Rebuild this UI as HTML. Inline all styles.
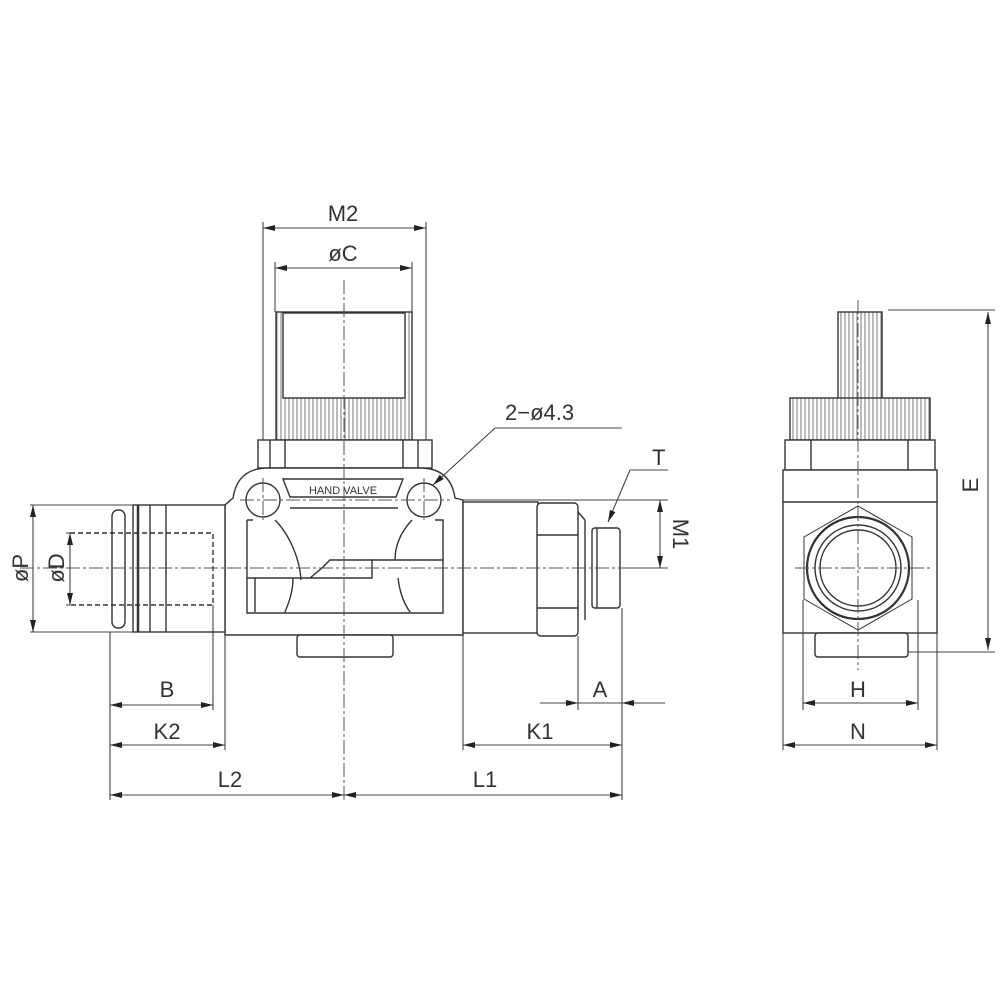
<!DOCTYPE html>
<html><head><meta charset="utf-8"><style>
html,body{margin:0;padding:0;background:#fff}
svg{display:block}
text{font-family:"Liberation Sans",sans-serif;font-size:22px;fill:#333}
</style></head><body>
<svg width="1000" height="1000" viewBox="0 0 1000 1000" xmlns="http://www.w3.org/2000/svg">
<defs>
<marker id="a" viewBox="0 0 12 6" refX="12" refY="3" markerWidth="12" markerHeight="6" orient="auto-start-reverse" markerUnits="userSpaceOnUse"><path d="M0,0 L12,3 L0,6 z" fill="#222"/></marker>
<pattern id="rib" width="4" height="10" patternUnits="userSpaceOnUse"><rect width="4" height="10" fill="#fff"/><line x1="1" y1="0" x2="1" y2="10" stroke="#777" stroke-width="1"/></pattern>
</defs>
<g fill="none" stroke="#333" stroke-width="1.4">
<!-- knob front -->
<rect x="276" y="312" width="136" height="128" fill="url(#rib)"/>
<rect x="283" y="313" width="122" height="85" fill="#fff"/>
<rect x="258" y="440" width="174" height="28" fill="#fff"/>
<line x1="270" y1="440" x2="270" y2="468"/><line x1="285" y1="440" x2="285" y2="468"/>
<line x1="403" y1="440" x2="403" y2="468"/><line x1="418" y1="440" x2="418" y2="468"/>
<!-- body -->
<path d="M225,505 L225,635 L463,635 L463,500 L455,498 C452,478 440,468 420,468 L268,468 C248,468 236,478 233,498 Z" fill="#fff"/>
<circle cx="263" cy="500" r="17"/><circle cx="424" cy="500" r="17"/>
<path d="M283,479 L403,479 L396,497 L290,497 Z"/>
<path d="M247,520 L247,613 L443,613 L443,520 L435,520 M253,520 L247,520"/>
<path d="M290,508 L398,508"/>
<path d="M275,520 C290,535 300,560 301,580 M412,520 C398,535 395,550 395,560"/>
<path d="M285,612 C290,600 293,590 293,578 M398,578 C400,595 405,605 410,612"/>
<path d="M247,578 L310,578 L322,568 L330,560 L372,560 L372,578 L330,578 Z"/>
<path d="M372,560 L443,560"/>
<path d="M255,578 L255,612"/>
<rect x="297" y="635" width="96" height="22" rx="3" fill="#fff"/>
<!-- left fitting -->
<rect x="133" y="505" width="92" height="127" fill="#fff"/>
<line x1="138" y1="505" x2="138" y2="632" stroke-width="2.5"/>
<line x1="150" y1="505" x2="150" y2="632"/><line x1="166" y1="505" x2="166" y2="632"/>
<rect x="112" y="510" width="13" height="118" rx="6" fill="#fff"/>
<path d="M70,533 L213,533 L213,605 L70,605" stroke-dasharray="5,3"/>
<!-- right tube/hex/fitting -->
<rect x="463" y="502" width="75" height="131" fill="#fff"/>
<rect x="537" y="503" width="41" height="133" rx="4" fill="#fff"/>
<line x1="537" y1="535" x2="578" y2="535"/><line x1="537" y1="608" x2="578" y2="608"/>
<line x1="578" y1="512" x2="585" y2="520"/><line x1="585" y1="520" x2="585" y2="620"/>
<rect x="592" y="528" width="28" height="80" rx="3" fill="#fff"/>
<line x1="597" y1="528" x2="597" y2="608"/>
<!-- right view -->
<rect x="838" y="312" width="44" height="88" fill="url(#rib)"/>
<rect x="790" y="398" width="140" height="42" fill="url(#rib)"/>
<rect x="785" y="440" width="150" height="30" fill="#fff"/>
<line x1="811" y1="440" x2="811" y2="470"/><line x1="908" y1="440" x2="908" y2="470"/>
<rect x="783" y="470" width="154" height="163" fill="#fff"/>
<line x1="783" y1="502" x2="937" y2="502"/>
<rect x="815" y="633" width="93" height="24" rx="3" fill="#fff"/>
<polygon points="858,506 912,537 912,599 858,630 804,599 804,537" stroke-width="1"/>
<circle cx="858" cy="568" r="51" stroke-width="2.2"/>
<circle cx="858" cy="568" r="43"/>
<circle cx="858" cy="568" r="38"/>
<!-- center lines -->
<g stroke="#555" stroke-width="1" stroke-dasharray="14,3,3,3">
<line x1="344" y1="280" x2="344" y2="800"/>
<line x1="20" y1="568" x2="640" y2="568"/>
<line x1="858" y1="300" x2="858" y2="670"/>
<line x1="795" y1="568" x2="930" y2="568"/>
<line x1="240" y1="500" x2="450" y2="500"/>
<line x1="263" y1="478" x2="263" y2="520"/>
<line x1="424" y1="478" x2="424" y2="520"/>
</g>
<!-- dimension / extension lines -->
<g stroke="#444" stroke-width="1.1">
<line x1="263" y1="222" x2="263" y2="440"/><line x1="426" y1="222" x2="426" y2="440"/>
<line x1="275" y1="262" x2="275" y2="312"/><line x1="412" y1="262" x2="412" y2="312"/>
<line x1="263" y1="228" x2="426" y2="228" marker-start="url(#a)" marker-end="url(#a)"/>
<line x1="275" y1="268" x2="412" y2="268" marker-start="url(#a)" marker-end="url(#a)"/>
<line x1="30" y1="505" x2="133" y2="505"/><line x1="30" y1="632" x2="133" y2="632"/>
<line x1="33" y1="505" x2="33" y2="632" marker-start="url(#a)" marker-end="url(#a)"/>
<line x1="66" y1="533" x2="70" y2="533"/><line x1="66" y1="605" x2="70" y2="605"/>
<line x1="70" y1="533" x2="70" y2="605" marker-start="url(#a)" marker-end="url(#a)"/>
<line x1="110" y1="632" x2="110" y2="800"/>
<line x1="213" y1="605" x2="213" y2="710"/>
<line x1="225" y1="635" x2="225" y2="750"/>
<line x1="463" y1="635" x2="463" y2="750"/>
<line x1="578" y1="636" x2="578" y2="710"/>
<line x1="622" y1="608" x2="622" y2="800"/>
<line x1="110" y1="705" x2="213" y2="705" marker-start="url(#a)" marker-end="url(#a)"/>
<line x1="110" y1="745" x2="225" y2="745" marker-start="url(#a)" marker-end="url(#a)"/>
<line x1="110" y1="795" x2="344" y2="795" marker-start="url(#a)" marker-end="url(#a)"/>
<line x1="344" y1="795" x2="622" y2="795" marker-start="url(#a)" marker-end="url(#a)"/>
<line x1="463" y1="745" x2="622" y2="745" marker-start="url(#a)" marker-end="url(#a)"/>
<line x1="540" y1="703" x2="578" y2="703" marker-end="url(#a)"/>
<line x1="665" y1="703" x2="622" y2="703" marker-end="url(#a)"/>
<line x1="578" y1="703" x2="622" y2="703"/>
<line x1="463" y1="500" x2="668" y2="500"/>
<line x1="625" y1="568" x2="668" y2="568"/>
<line x1="660" y1="500" x2="660" y2="568" marker-start="url(#a)" marker-end="url(#a)"/>
<polyline points="495,428 622,428"/>
<line x1="495" y1="428" x2="433" y2="485" marker-end="url(#a)"/>
<polyline points="668,470 630,470"/>
<line x1="630" y1="470" x2="608" y2="522" marker-end="url(#a)"/>
<line x1="888" y1="310" x2="995" y2="310"/><line x1="908" y1="652" x2="995" y2="652"/>
<line x1="988" y1="312" x2="988" y2="650" marker-start="url(#a)" marker-end="url(#a)"/>
<line x1="783" y1="633" x2="783" y2="750"/><line x1="937" y1="633" x2="937" y2="750"/>
<line x1="803" y1="600" x2="803" y2="710"/><line x1="918" y1="600" x2="918" y2="710"/>
<line x1="803" y1="703" x2="918" y2="703" marker-start="url(#a)" marker-end="url(#a)"/>
<line x1="783" y1="745" x2="937" y2="745" marker-start="url(#a)" marker-end="url(#a)"/>
</g>
</g>
<text x="343" y="221" text-anchor="middle">M2</text>
<text x="343" y="261" text-anchor="middle">øC</text>
<text x="505" y="420">2−ø4.3</text>
<text x="652" y="465">T</text>
<text transform="translate(673,534) rotate(90)" text-anchor="middle">M1</text>
<text transform="translate(28,568) rotate(-90)" text-anchor="middle">øP</text>
<text transform="translate(64,568) rotate(-90)" text-anchor="middle">øD</text>
<text x="167" y="697" text-anchor="middle">B</text>
<text x="167" y="739" text-anchor="middle">K2</text>
<text x="230" y="787" text-anchor="middle">L2</text>
<text x="485" y="787" text-anchor="middle">L1</text>
<text x="540" y="739" text-anchor="middle">K1</text>
<text x="600" y="697" text-anchor="middle">A</text>
<text transform="translate(978,485) rotate(-90)" text-anchor="middle">E</text>
<text x="858" y="697" text-anchor="middle">H</text>
<text x="858" y="739" text-anchor="middle">N</text>
<text x="343" y="494" text-anchor="middle" style="font-size:11px">HAND VALVE</text>
</svg>
</body></html>
